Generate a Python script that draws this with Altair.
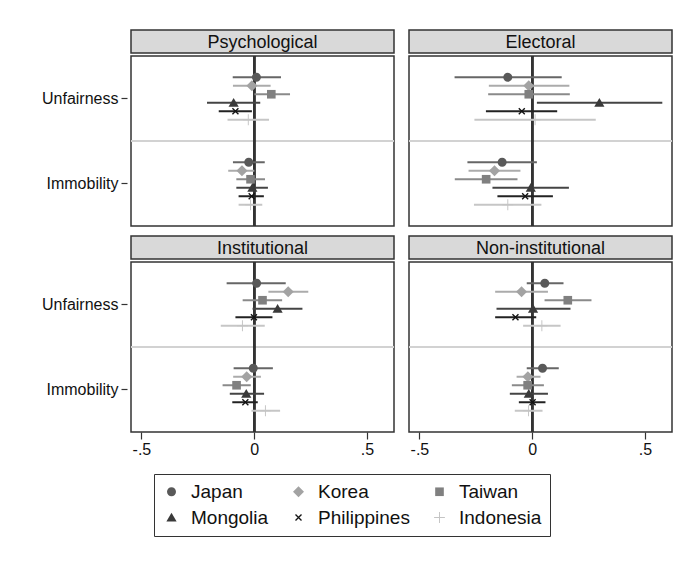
import altair as alt
import pandas as pd

# ---------------- data ----------------
countries = ["Japan", "Korea", "Taiwan", "Mongolia", "Philippines", "Indonesia"]
outcomes = ["Unfairness", "Immobility"]
panels = ["Psychological", "Electoral", "Institutional", "Non-institutional"]

# each list: 6 countries for Unfairness, then 6 for Immobility
psych_est = [0.010, -0.010, 0.076, -0.091, -0.083, -0.026,
             -0.024, -0.054, -0.016, -0.008, -0.011, -0.016]
psych_lo = [-0.095, -0.094, 0.001, -0.209, -0.157, -0.118,
            -0.094, -0.115, -0.079, -0.079, -0.069, -0.069]
psych_hi = [0.119, 0.073, 0.159, 0.027, -0.010, 0.066,
            0.047, 0.001, 0.048, 0.061, 0.043, 0.036]

elect_est = [-0.108, -0.015, -0.015, 0.298, -0.046, 0.013,
             -0.133, -0.167, -0.204, -0.006, -0.031, -0.108]
elect_lo = [-0.344, -0.192, -0.195, 0.021, -0.205, -0.256,
            -0.287, -0.282, -0.343, -0.176, -0.154, -0.258]
elect_hi = [0.131, 0.165, 0.167, 0.577, 0.111, 0.282,
            0.021, -0.052, -0.065, 0.163, 0.092, 0.041]

inst_est = [0.011, 0.151, 0.037, 0.104, -0.001, -0.052,
            -0.004, -0.033, -0.078, -0.035, -0.039, 0.050]
inst_lo = [-0.122, 0.063, -0.051, -0.007, -0.083, -0.148,
           -0.091, -0.093, -0.140, -0.108, -0.097, -0.012]
inst_hi = [0.140, 0.240, 0.124, 0.214, 0.081, 0.047,
           0.083, 0.030, -0.015, 0.044, 0.016, 0.115]

noninst_est = [0.056, -0.047, 0.158, 0.004, -0.074, 0.043,
               0.046, -0.019, -0.020, -0.015, 0.002, -0.016]
noninst_lo = [-0.024, -0.164, 0.055, -0.158, -0.164, -0.040,
              -0.024, -0.069, -0.090, -0.099, -0.059, -0.077]
noninst_hi = [0.139, 0.070, 0.263, 0.170, 0.018, 0.126,
              0.118, 0.037, 0.052, 0.070, 0.059, 0.046]

x_tick_values = [-0.5, 0, 0.5]
x_tick_labels = ["-.5", "0", ".5"]

panel_data = {
    "Psychological": (psych_est, psych_lo, psych_hi),
    "Electoral": (elect_est, elect_lo, elect_hi),
    "Institutional": (inst_est, inst_lo, inst_hi),
    "Non-institutional": (noninst_est, noninst_lo, noninst_hi),
}

# ---------------- styles ----------------
FONT = "Liberation Sans"
MARKER_COLORS = ["#595959", "#a3a3a3", "#808080", "#3a3a3a", "#141414", "#c4c4c4"]
CI_COLORS = ["#666666", "#ababab", "#8a8a8a", "#444444", "#222222", "#c6c6c6"]
X_PATH = ("M-0.42,-0.58L0.58,0.42L0.42,0.58L-0.58,-0.42Z"
          "M-0.42,0.58L-0.58,0.42L0.42,-0.58L0.58,-0.42Z")
PLUS_PATH = ("M-0.9,-0.08L0.9,-0.08L0.9,0.08L-0.9,0.08Z"
             "M0.08,-0.9L0.08,0.9L-0.08,0.9L-0.08,-0.9Z")
SHAPES = [
    "M0.75,0A0.75,0.75 0 1,1 -0.75,0A0.75,0.75 0 1,1 0.75,0Z",
    "M0,-0.92L0.92,0L0,0.92L-0.92,0Z",
    "M-0.72,-0.72L0.72,-0.72L0.72,0.72L-0.72,0.72Z",
    "M0,-0.8L0.85,0.66L-0.85,0.66Z",
    X_PATH,
    PLUS_PATH,
]

W, PH, HH = 263, 170, 23
HGAP, VGAP = 11, 7

rows = []
for p in panels:
    est, lo, hi = panel_data[p]
    for i in range(12):
        rows.append({
            "panel": p,
            "outcome": outcomes[i // 6],
            "country": countries[i % 6],
            "est": est[i], "lo": lo[i], "hi": hi[i],
            "ci_color": CI_COLORS[i % 6],
        })
df = pd.DataFrame(rows)

label_expr = " : ".join(
    f"datum.value == {v} ? '{l}'" for v, l in zip(x_tick_values, x_tick_labels)
) + " : ''"

legend = alt.Legend(
    title=None, orient="none", legendX=23, legendY=444, columns=3,
    direction="horizontal",
    symbolSize=144, symbolStrokeWidth=0, labelFont=FONT, labelFontSize=19,
    labelColor="#111111", strokeColor="#333333", padding=8, rowPadding=6,
    columnPadding=20, labelOffset=10,
)


def make_panel(name, show_y, show_x):
    d = df[df.panel == name]
    header = alt.Chart(pd.DataFrame({"t": [name]})).mark_text(
        font=FONT, fontSize=18, color="#111111", align="center", baseline="middle"
    ).encode(
        text="t:N", x=alt.value(W / 2), y=alt.value(HH / 2 + 1)
    ).properties(
        width=W, height=HH,
        view=alt.ViewBackground(fill="#d9d9d9", stroke="#333333", strokeWidth=1.5),
    )

    xsc = alt.Scale(domain=[-0.546, 0.62], nice=False, zero=False)
    xaxis = alt.Axis(values=x_tick_values, labelExpr=label_expr, title=None,
                     grid=False, domain=False, tickSize=7, labelFontSize=16,
                     labelPadding=2, labelFont=FONT) if show_x else None
    ysc = alt.Scale(domain=outcomes, paddingInner=0, paddingOuter=0)
    yaxis = alt.Axis(title=None, grid=False, domain=False, tickSize=6, offset=4,
                     labelPadding=3, labelFontSize=16, labelFont=FONT) if show_y else None
    offsc = alt.Scale(domain=countries, paddingInner=0, paddingOuter=0, range=[17, 68])

    base = alt.Chart(d)
    sep = base.mark_rule(color="#d2d2d2", strokeWidth=1.5).encode(
        y=alt.YDatum("Immobility", type="nominal", bandPosition=0, scale=ysc, axis=yaxis)
    )
    zero = base.mark_rule(color="#333333", strokeWidth=2).encode(
        x=alt.XDatum(0, type="quantitative", scale=xsc, axis=xaxis)
    )
    ci = base.mark_rule(strokeWidth=2).encode(
        x=alt.X("lo:Q", scale=xsc, axis=xaxis),
        x2="hi:Q",
        y=alt.Y("outcome:N", scale=ysc, axis=yaxis),
        yOffset=alt.YOffset("country:N", scale=offsc),
        stroke=alt.Stroke("ci_color:N", scale=None),
    )
    pts = base.mark_point(filled=True, size=144, opacity=1).encode(
        x=alt.X("est:Q", scale=xsc, axis=xaxis),
        y=alt.Y("outcome:N", scale=ysc, axis=yaxis),
        yOffset=alt.YOffset("country:N", scale=offsc),
        color=alt.Color("country:N", scale=alt.Scale(domain=countries, range=MARKER_COLORS), legend=legend),
        shape=alt.Shape("country:N", scale=alt.Scale(domain=countries, range=SHAPES), legend=legend),
    )
    plot = alt.layer(sep, zero, ci, pts).properties(width=W, height=PH)
    return alt.vconcat(header, plot, spacing=0)


row1 = alt.hconcat(make_panel("Psychological", True, False),
                   make_panel("Electoral", False, False), spacing=HGAP)
row2 = alt.hconcat(make_panel("Institutional", True, True),
                   make_panel("Non-institutional", False, True), spacing=HGAP)

chart = alt.vconcat(row1, row2, spacing=VGAP).resolve_scale(
    color="shared", shape="shared"
).properties(
    padding={"left": 32, "top": 21, "right": 5, "bottom": 5},
    background="white",
).configure_view(
    stroke="#333333", strokeWidth=1.5
).configure_axis(
    labelColor="#111111", tickColor="#333333", tickWidth=1.2
)

chart.save("out.html", embed_options={"renderer": "svg", "actions": False})
